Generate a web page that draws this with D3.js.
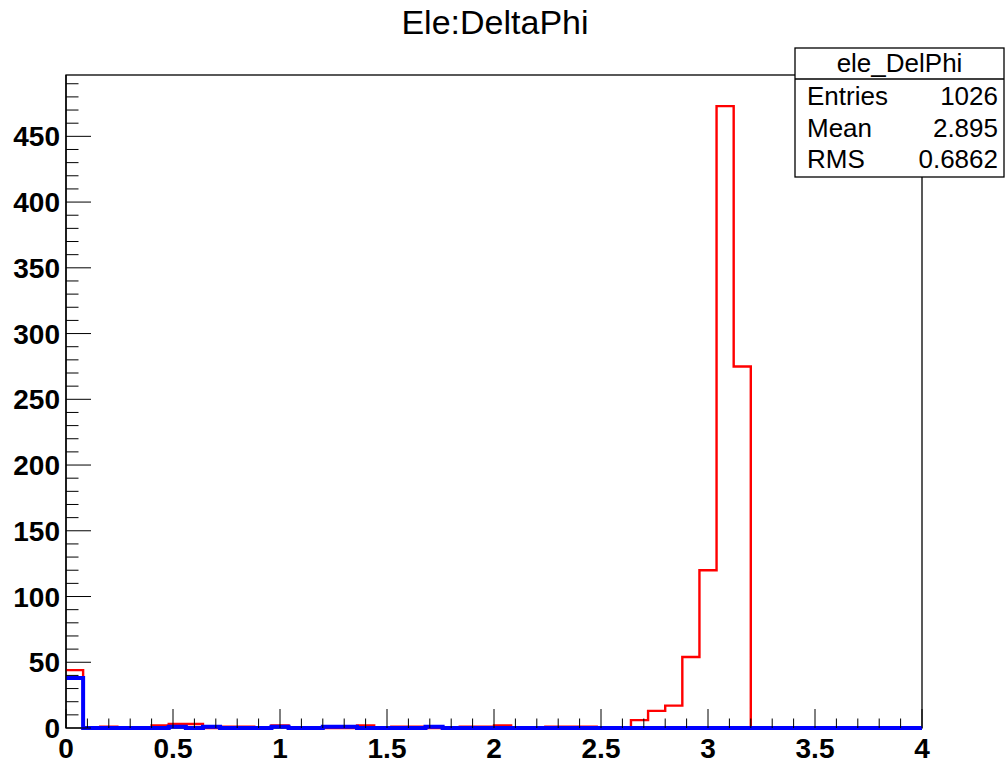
<!DOCTYPE html>
<html>
<head>
<meta charset="utf-8">
<script src="https://cdn.jsdelivr.net/npm/d3@7"></script>
<style>
  html, body { margin: 0; padding: 0; background: #fff; }
  svg { display: block; }
  text { font-family: "Liberation Sans", Arial, Helvetica, sans-serif; }
</style>
</head>
<body>
<svg id="chart" width="1006" height="763"></svg>
<script>
// ---- data ----
const titleText = "Ele:DeltaPhi";
const xMin = 0, xMax = 4, binWidth = 0.08;
const redValues = [44, 0, 1, 0, 0, 2, 3, 3, 0, 1,
                   1, 0, 2, 0, 0, 0, 0, 2, 0, 1,
                   1, 0, 0, 1, 1, 2, 0, 0, 1, 1,
                   1, 0, 0, 6, 13, 17, 54, 120, 473, 275,
                   0, 0, 0, 0, 0, 0, 0, 0, 0, 0];
const blueValues = [38, 0, 0, 0, 0, 0, 1, 0, 1, 0,
                    0, 0, 1, 0, 0, 1, 1, 0, 0, 0,
                    0, 1, 0, 0, 0, 0, 0, 0, 0, 0,
                    0, 0, 0, 0, 0, 0, 0, 0, 0, 0,
                    0, 0, 0, 0, 0, 0, 0, 0, 0, 0];
const xTickValues = [0, 0.5, 1, 1.5, 2, 2.5, 3, 3.5, 4];
const xTickLabels = ["0", "0.5", "1", "1.5", "2", "2.5", "3", "3.5", "4"];
const yTickValues = [0, 50, 100, 150, 200, 250, 300, 350, 400, 450];
const statsTitle = "ele_DelPhi";
const statsNames = ["Entries", "Mean", "RMS"];
const statsValues = ["1026", "2.895", "0.6862"];

// ---- layout ----
const frame = { left: 66, right: 922, top: 75, bottom: 728 };
const yMax = 1.05 * d3.max(redValues);

const svg = d3.select("#chart");
const x = d3.scaleLinear().domain([xMin, xMax]).range([frame.left, frame.right]);
const y = d3.scaleLinear().domain([0, yMax]).range([frame.bottom, frame.top]);

// title
svg.append("text")
  .attr("x", 495).attr("y", 34)
  .attr("text-anchor", "middle")
  .attr("font-size", 34)
  .attr("fill", "#000")
  .text(titleText);

// clip
svg.append("defs").append("clipPath").attr("id", "clip")
  .append("rect")
  .attr("x", frame.left).attr("y", frame.top - 2)
  .attr("width", frame.right - frame.left + 2)
  .attr("height", frame.bottom - frame.top + 6);

// frame
svg.append("rect")
  .attr("x", frame.left).attr("y", frame.top)
  .attr("width", frame.right - frame.left)
  .attr("height", frame.bottom - frame.top)
  .attr("fill", "none").attr("stroke", "#000").attr("stroke-width", 1.3);

// histogram step paths
function stepPath(vals) {
  let p = "M" + x(xMin) + "," + y(vals[0]);
  vals.forEach((v, i) => {
    const x0 = xMin + i * binWidth;
    if (i > 0) p += "V" + y(v);
    p += "H" + x(x0 + binWidth);
  });
  return p;
}

const g = svg.append("g").attr("clip-path", "url(#clip)");
g.append("path").attr("d", stepPath(redValues))
  .attr("fill", "none").attr("stroke", "#ff0000").attr("stroke-width", 2.4);
g.append("path").attr("d", stepPath(blueValues))
  .attr("fill", "none").attr("stroke", "#0000ff").attr("stroke-width", 4);

// Y axis: ticks inside (pointing right)
const yMinor = d3.range(0, yMax, 10);
const yAxisG = svg.append("g");
yAxisG.selectAll("line.minor").data(yMinor).join("line")
  .attr("x1", frame.left).attr("x2", d => frame.left + (d % 50 === 0 ? 25 : 12.5))
  .attr("y1", d => y(d)).attr("y2", d => y(d))
  .attr("stroke", "#000").attr("stroke-width", 1);
yAxisG.selectAll("text").data(yTickValues).join("text")
  .attr("x", 60).attr("y", d => y(d) + 10)
  .attr("text-anchor", "end")
  .attr("font-size", 28).attr("font-weight", "bold")
  .text(d => d);

// X axis: ticks inside (pointing up)
const xMinor = d3.range(0, 41).map(i => i / 10);
const xAxisG = svg.append("g");
xAxisG.selectAll("line").data(xMinor).join("line")
  .attr("x1", d => x(d)).attr("x2", d => x(d))
  .attr("y1", frame.bottom)
  .attr("y2", (d, i) => frame.bottom - (i % 5 === 0 ? 19 : 9.5))
  .attr("stroke", "#000").attr("stroke-width", 1);
xAxisG.selectAll("text").data(xTickValues).join("text")
  .attr("x", d => x(d)).attr("y", 758)
  .attr("text-anchor", "middle")
  .attr("font-size", 28).attr("font-weight", "bold")
  .text((d, i) => xTickLabels[i]);

// redraw axis lines on top
svg.append("line").attr("x1", frame.left).attr("x2", frame.left)
  .attr("y1", frame.top).attr("y2", frame.bottom).attr("stroke", "#000").attr("stroke-width", 1.3);

// stats box
const sb = { left: 795, right: 1004, top: 48, bottom: 177, header: 79 };
const statsG = svg.append("g");
statsG.append("rect")
  .attr("x", sb.left).attr("y", sb.top)
  .attr("width", sb.right - sb.left).attr("height", sb.bottom - sb.top)
  .attr("fill", "#fff").attr("stroke", "#000").attr("stroke-width", 1.3);
statsG.append("line")
  .attr("x1", sb.left).attr("x2", sb.right)
  .attr("y1", sb.header).attr("y2", sb.header)
  .attr("stroke", "#000").attr("stroke-width", 1.3);
statsG.append("text")
  .attr("x", (sb.left + sb.right) / 2).attr("y", 72)
  .attr("text-anchor", "middle").attr("font-size", 26)
  .text(statsTitle);
statsNames.forEach((n, i) => {
  const by = 105 + i * 31.7;
  statsG.append("text").attr("x", 807).attr("y", by)
    .attr("font-size", 26).text(n);
  statsG.append("text").attr("x", 998).attr("y", by)
    .attr("text-anchor", "end").attr("font-size", 26).text(statsValues[i]);
});
</script>
</body>
</html>
